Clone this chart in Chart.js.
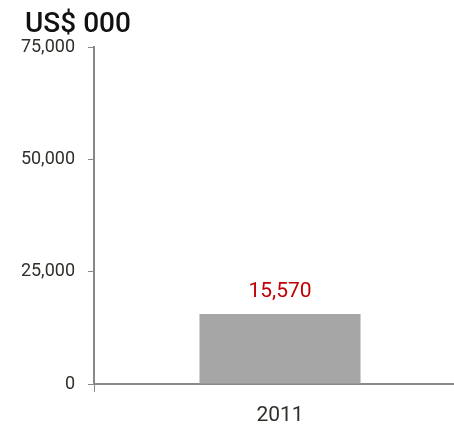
<!DOCTYPE html>
<html>
<head>
<meta charset="utf-8">
<script src="https://cdn.jsdelivr.net/npm/chart.js@4/dist/chart.umd.min.js"></script>
<style>
  html, body { margin: 0; padding: 0; background: #fff; overflow: hidden; }
  #wrap { position: relative; width: 470px; height: 428px; }
  #unit { position: absolute; left: 25px; top: 9px; font: 500 28px Roboto, sans-serif; line-height: 28px; color: #111; }
</style>
</head>
<body>
<div id="wrap">
  <canvas id="chart" width="470" height="428"></canvas>
  <div id="unit">US$ 000</div>
</div>
<script>
// dữ liệu
const years = ['2011'];
const values = [15570];
const yTicks = [0, 25000, 50000, 75000];

const axisGrey = '#888888';
const textGrey = '#302f2a';

// nhãn giá trị màu đỏ phía trên cột
const valueLabels = {
  id: 'valueLabels',
  afterDatasetsDraw(chart) {
    const ctx = chart.ctx;
    const meta = chart.getDatasetMeta(0);
    ctx.save();
    ctx.font = "21px Roboto, sans-serif";
    ctx.fillStyle = '#c00000';
    ctx.textAlign = 'center';
    ctx.textBaseline = 'alphabetic';
    meta.data.forEach((bar, i) => {
      ctx.fillText(values[i].toLocaleString('en-US'), bar.x, bar.y - 17);
    });
    ctx.restore();
  }
};

new Chart(document.getElementById('chart').getContext('2d'), {
  type: 'bar',
  data: {
    labels: years,
    datasets: [{
      data: values,
      backgroundColor: '#a6a6a6',
      borderWidth: 0,
      barPercentage: 0.433,
      categoryPercentage: 1
    }]
  },
  options: {
    responsive: false,
    animation: false,
    layout: { padding: { top: 47, right: 4, left: 0, bottom: 0 } },
    plugins: {
      legend: { display: false },
      tooltip: { enabled: false }
    },
    scales: {
      x: {
        offset: true,
        grid: { offset: true, drawOnChartArea: false, drawTicks: true, tickLength: 8, color: axisGrey, lineWidth: 1 },
        border: { display: true, color: axisGrey, width: 2 },
        ticks: { color: textGrey, font: { family: 'Roboto', size: 21 }, padding: 11 },
        afterFit(scale) { scale.height = 44; }
      },
      y: {
        min: yTicks[0],
        max: yTicks[yTicks.length - 1],
        afterBuildTicks(scale) { scale.ticks = yTicks.map(v => ({ value: v })); },
        grid: { drawOnChartArea: false, drawTicks: true, tickLength: 6, color: axisGrey, lineWidth: 1 },
        border: { display: true, color: axisGrey, width: 2 },
        ticks: {
          color: textGrey,
          font: { family: 'Roboto', size: 18 },
          padding: 13,
          callback: v => v.toLocaleString('en-US')
        },
        afterFit(scale) { scale.width = 94; }
      }
    }
  },
  plugins: [valueLabels]
});
</script>
</body>
</html>
